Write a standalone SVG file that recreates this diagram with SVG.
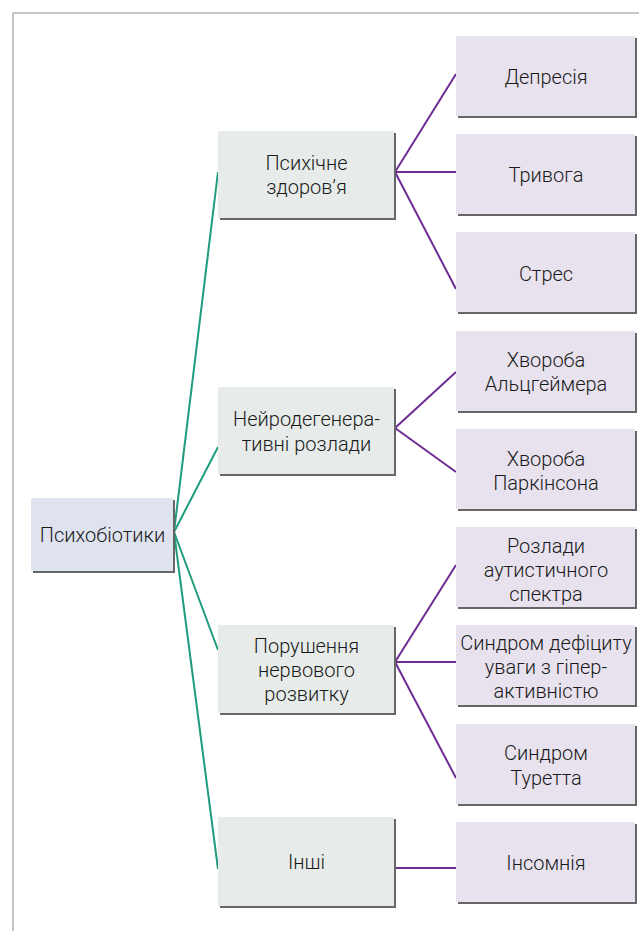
<svg xmlns="http://www.w3.org/2000/svg" width="639" height="931" viewBox="0 0 639 931">
<style>
.sh{fill:#666666}
.root{fill:#dfe3ef}
.mid{fill:#e7ecea}
.leaf{fill:#e8e2ef}
text{font-family:Roboto,"Noto Sans","Liberation Sans",sans-serif;font-size:20px;font-weight:300;fill:#1a1a1a;text-anchor:middle}
.g{stroke:#1f9b7e;stroke-width:2;fill:none}
.p{stroke:#6f2b94;stroke-width:2;fill:none}
</style>
<rect width="639" height="931" fill="#ffffff"/>
<path d="M13 931V13H639" fill="none" stroke="#b3b3b3" stroke-width="1.5"/>
<g id="connectors">
<line class="g" x1="174" y1="532" x2="218" y2="172"/>
<line class="g" x1="174" y1="532" x2="218" y2="447"/>
<line class="g" x1="174" y1="532" x2="218" y2="650"/>
<line class="g" x1="174" y1="532" x2="218" y2="869"/>
<line class="p" x1="395" y1="172" x2="456" y2="74"/>
<line class="p" x1="395" y1="172" x2="456" y2="172"/>
<line class="p" x1="395" y1="172" x2="456" y2="289"/>
<line class="p" x1="395" y1="428" x2="456" y2="372"/>
<line class="p" x1="395" y1="428" x2="456" y2="472"/>
<line class="p" x1="395" y1="662" x2="456" y2="565"/>
<line class="p" x1="395" y1="662" x2="456" y2="662"/>
<line class="p" x1="395" y1="662" x2="456" y2="778"/>
<line class="p" x1="395" y1="868" x2="456" y2="868"/>
</g>
<g id="n-root">
<rect class="sh" x="33" y="500" width="142" height="73"/>
<rect class="root" x="31" y="498" width="142" height="73"/>
<text x="102.5" y="542">Психобіотики</text>
</g>
<g id="n-mental">
<rect class="sh" x="220" y="133" width="176" height="87"/>
<rect class="mid" x="218" y="131" width="176" height="87"/>
<text x="306.5" y="170">Психічне</text>
<text x="306.5" y="194">здоров’я</text>
</g>
<g id="n-neuro">
<rect class="sh" x="220" y="389" width="176" height="87"/>
<rect class="mid" x="218" y="387" width="176" height="87"/>
<text x="306.5" y="426">Нейродегенера-</text>
<text x="306.5" y="451">тивні розлади</text>
</g>
<g id="n-dev">
<rect class="sh" x="220" y="627" width="176" height="88"/>
<rect class="mid" x="218" y="625" width="176" height="88"/>
<text x="306.5" y="653">Порушення</text>
<text x="306.5" y="677">нервового</text>
<text x="306.5" y="701">розвитку</text>
</g>
<g id="n-other">
<rect class="sh" x="220" y="819" width="176" height="89"/>
<rect class="mid" x="218" y="817" width="176" height="89"/>
<text x="306.5" y="869">Інші</text>
</g>
<g id="n-depr">
<rect class="sh" x="458" y="38" width="179" height="80"/>
<rect class="leaf" x="456" y="36" width="179" height="80"/>
<text x="546" y="84">Депресія</text>
</g>
<g id="n-anx">
<rect class="sh" x="458" y="136" width="179" height="80"/>
<rect class="leaf" x="456" y="134" width="179" height="80"/>
<text x="546" y="182">Тривога</text>
</g>
<g id="n-stress">
<rect class="sh" x="458" y="234" width="179" height="80"/>
<rect class="leaf" x="456" y="232" width="179" height="80"/>
<text x="546" y="281">Стрес</text>
</g>
<g id="n-alz">
<rect class="sh" x="458" y="333" width="179" height="80"/>
<rect class="leaf" x="456" y="331" width="179" height="80"/>
<text x="546" y="367">Хвороба</text>
<text x="546" y="391">Альцгеймера</text>
</g>
<g id="n-park">
<rect class="sh" x="458" y="431" width="179" height="80"/>
<rect class="leaf" x="456" y="429" width="179" height="80"/>
<text x="546" y="466">Хвороба</text>
<text x="546" y="490">Паркінсона</text>
</g>
<g id="n-asd">
<rect class="sh" x="458" y="529" width="179" height="80"/>
<rect class="leaf" x="456" y="527" width="179" height="80"/>
<text x="546" y="553">Розлади</text>
<text x="546" y="577">аутистичного</text>
<text x="546" y="601">спектра</text>
</g>
<g id="n-adhd">
<rect class="sh" x="458" y="627" width="179" height="80"/>
<rect class="leaf" x="456" y="625" width="179" height="80"/>
<text x="546" y="650">Синдром дефіциту</text>
<text x="546" y="674">уваги з гіпер-</text>
<text x="546" y="698">активністю</text>
</g>
<g id="n-tour">
<rect class="sh" x="458" y="726" width="179" height="80"/>
<rect class="leaf" x="456" y="724" width="179" height="80"/>
<text x="546" y="760">Синдром</text>
<text x="546" y="785">Туретта</text>
</g>
<g id="n-insom">
<rect class="sh" x="458" y="824" width="179" height="80"/>
<rect class="leaf" x="456" y="822" width="179" height="80"/>
<text x="546" y="870">Інсомнія</text>
</g>
</svg>
